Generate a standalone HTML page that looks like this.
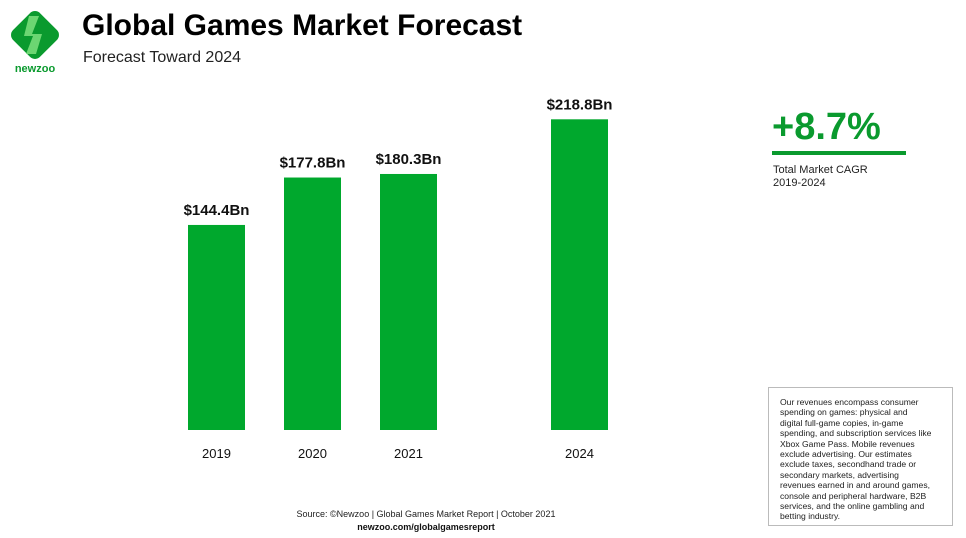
<!DOCTYPE html>
<html><head><meta charset="utf-8"><style>
body{margin:0;width:966px;height:538px;background:#fff;font-family:"Liberation Sans",sans-serif;position:relative;overflow:hidden;color:#111}
.a{position:absolute}
</style></head><body>
<div class="a" style="left:6px;top:6px;width:58px;height:68px">
<svg width="58" height="68" viewBox="0 0 58 68"><g transform="translate(29,29) rotate(45)"><rect x="-19" y="-19" width="38" height="38" rx="7" fill="#0a9a2e"/></g>
<path d="M23 10 L33 10 L26 28 L36 28 L30 48 L20 48 L27 30 L18 30 Z" fill="#7ee07e" opacity="0.85"/>
<text x="29" y="66" text-anchor="middle" font-size="11" font-weight="bold" fill="#0a9a2e" font-family="Liberation Sans">newzoo</text></svg></div>
<div class="a" style="left:82px;top:9px;font-size:30px;font-weight:bold;color:#000">Global Games Market Forecast</div>
<div class="a" style="left:83px;top:49px;font-size:16px;color:#222">Forecast Toward 2024</div>
<svg class="a" style="left:0;top:0" width="966" height="538" id="chart"></svg>
<div class="a" style="left:772px;top:106px;font-size:38px;font-weight:bold;color:#0a9a2e">+8.7%</div>
<div class="a" style="left:772px;top:151px;width:134px;height:4px;background:#0a9a2e"></div>
<div class="a" style="left:773px;top:164px;font-size:11px;line-height:13px;color:#222">Total Market CAGR<br>2019-2024</div>
<div class="a" style="left:0;width:852px;text-align:center;top:509px;font-size:9px;color:#222">Source: ©Newzoo | Global Games Market Report | October 2021</div>
<div class="a" style="left:0;width:852px;text-align:center;top:522px;font-size:9px;font-weight:bold;color:#111">newzoo.com/globalgamesreport</div>
<div class="a" style="left:768px;top:387px;width:172px;height:128px;border:1px solid #bbb;padding:9px 0 0 11px;font-size:8.6px;line-height:10.4px;color:#222">Our revenues encompass consumer<br>spending on games: physical and<br>digital full-game copies, in-game<br>spending, and subscription services like<br>Xbox Game Pass. Mobile revenues<br>exclude advertising. Our estimates<br>exclude taxes, secondhand trade or<br>secondary markets, advertising<br>revenues earned in and around games,<br>console and peripheral hardware, B2B<br>services, and the online gambling and<br>betting industry.</div>
<script>
const categories=["2019","2020","2021","2024"];
const values=[144.4,177.8,180.3,218.8];
const valueLabels=["$144.4Bn","$177.8Bn","$180.3Bn","$218.8Bn"];
const xCenters={"2019":216.5,"2020":312.5,"2021":408.5,"2024":579.5};
const baseY=430,scale=1.42,barW=57;
function y(v){return baseY-v*scale;}
function x(c){return xCenters[c];}
const svg=document.getElementById('chart');const NS="http://www.w3.org/2000/svg";
categories.forEach((c,i)=>{
 const r=document.createElementNS(NS,'rect');
 r.setAttribute('x',x(c)-barW/2);r.setAttribute('y',y(values[i]));r.setAttribute('width',barW);r.setAttribute('height',baseY-y(values[i]));r.setAttribute('fill','#00a82d');
 
 
 svg.appendChild(r);
 const t=document.createElementNS(NS,'text');
 t.setAttribute('x',x(c));t.setAttribute('y',y(values[i])-10);t.setAttribute('text-anchor','middle');t.setAttribute('font-size','15');t.setAttribute('font-weight','bold');t.setAttribute('fill','#111');t.textContent=valueLabels[i];
 
 
 svg.appendChild(t);
 const l=document.createElementNS(NS,'text');
 l.setAttribute('x',x(c));l.setAttribute('y',458);l.setAttribute('text-anchor','middle');l.setAttribute('font-size','13');l.setAttribute('fill','#111');l.textContent=c;
 
 
 svg.appendChild(l);
});
</script>
</body></html>
